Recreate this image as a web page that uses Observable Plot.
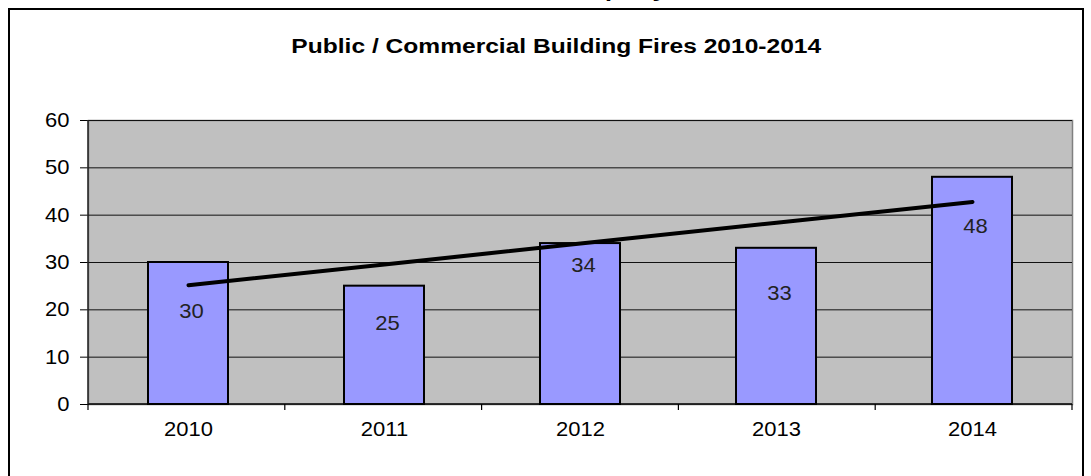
<!DOCTYPE html>
<html>
<head>
<meta charset="utf-8">
<script src="https://cdn.jsdelivr.net/npm/d3@7"></script>
<script src="https://cdn.jsdelivr.net/npm/@observablehq/plot@0.6"></script>
<style>
  html, body { margin: 0; padding: 0; background: #fff; }
  #wrap { position: relative; width: 1091px; height: 476px; overflow: hidden; font-family: "Liberation Sans", Arial, sans-serif; }
  #cut { position: absolute; left: 0; top: 0; width: 1091px; height: 8px; overflow: hidden; }
  #cut span { position: absolute; left: 563px; top: -20px; font-size: 20px; line-height: 20px; font-weight: bold; transform: scaleX(1.26); transform-origin: left center; white-space: nowrap; color: #000; }
  #box { position: absolute; left: 8px; top: 8px; width: 1072px; height: 520px; border: 2px solid #000; border-bottom: none; }
  #title { position: absolute; left: 0; top: 36px; width: 1112px; text-align: center; font-size: 19.5px; line-height: 20px; font-weight: bold; color: #000; }
  #title span { display: inline-block; transform: scaleX(1.26); transform-origin: center; white-space: nowrap; }
  #chart { position: absolute; left: 0; top: 100px; }
</style>
</head>
<body>
<div id="wrap">
  <div id="cut"><span>Property</span></div>
  <div id="box"></div>
  <div id="title"><span>Public / Commercial Building Fires 2010-2014</span></div>
  <div id="chart"></div>
</div>
<script>
// ---- data ----
const years = ["2010", "2011", "2012", "2013", "2014"];
const fires = [30, 25, 34, 33, 48];
const yTicks = [0, 10, 20, 30, 40, 50, 60];

// ---- derived tables ----
const rows = years.map((year, i) => ({year, fires: fires[i]}));
// linear least-squares trendline (as in the spreadsheet chart)
const n = fires.length;
const xm = (n - 1) / 2;
const ym = d3.mean(fires);
const slope = d3.sum(fires, (v, i) => (i - xm) * (v - ym)) / d3.sum(fires, (v, i) => (i - xm) ** 2);
const trend = years.map((year, i) => ({year, value: ym + slope * (i - xm)}));

// label placement (style: offset of each value label below its bar top, px)
const labelDy = [49, 37, 22.5, 45, 49];

const W = 1091, H = 376;

// axis lines and between-category tick marks
function axisLines(index, scales, values, dims) {
  const x0 = dims.marginLeft, x1 = dims.width - dims.marginRight;
  const yb = scales.y(0), yt = dims.marginTop;
  const g = d3.create("svg:g").attr("fill", "none");
  g.append("line").attr("x1", x0).attr("x2", x1).attr("y1", yb).attr("y2", yb).attr("stroke", "#000").attr("stroke-width", 1.5);
  g.append("line").attr("x1", x0).attr("x2", x0).attr("y1", yt).attr("y2", yb).attr("stroke", "#222").attr("stroke-width", 1.5);
  const step = (x1 - x0) / years.length;
  for (let k = 0; k <= years.length; k++) {
    const xx = x0 + k * step;
    g.append("line").attr("x1", xx).attr("x2", xx).attr("y1", yb).attr("y2", yb + 6).attr("stroke", "#000").attr("stroke-width", 1.2);
  }
  return g.node();
}

const chart = Plot.plot({
  width: W,
  height: H,
  marginTop: 20,
  marginBottom: 72,
  marginLeft: 88,
  marginRight: 19,
  style: {fontFamily: "'Liberation Sans', Arial, sans-serif", fontSize: "20px", color: "#000", background: "transparent", overflow: "visible"},
  x: {domain: years, paddingInner: 0.59, paddingOuter: 0.295, tickSize: 0, tickPadding: 17, label: null},
  y: {domain: [0, 60], ticks: yTicks, tickSize: 8, tickPadding: 11, label: null},
  marks: [
    Plot.frame({fill: "#C0C0C0", stroke: "#808080", strokeWidth: 1.5}),
    Plot.ruleY(yTicks.slice(1), {stroke: "#111", strokeWidth: 1}),
    Plot.barY(rows, {x: "year", y: "fires", fill: "#9999FF", stroke: "#000", strokeWidth: 2}),
    Plot.line(trend, {x: "year", y: "value", stroke: "#000", strokeWidth: 4, strokeLinecap: "round"}),
    ...rows.map((r, i) => Plot.text([r], {x: "year", y: "fires", text: d => String(d.fires), dx: 3, dy: labelDy[i], lineAnchor: "middle", fill: "#222", fontSize: 20})),
    axisLines
  ]
});

document.getElementById("chart").appendChild(chart);

// horizontally stretched text, like the original bitmap
const SX = 1.1;
chart.querySelectorAll("text").forEach(t => {
  const x = parseFloat(t.getAttribute("x")) || 0;
  const tr = t.getAttribute("transform") || "";
  t.setAttribute("transform", `${tr} translate(${x},0) scale(${SX},1) translate(${-x},0)`);
});
</script>
</body>
</html>
